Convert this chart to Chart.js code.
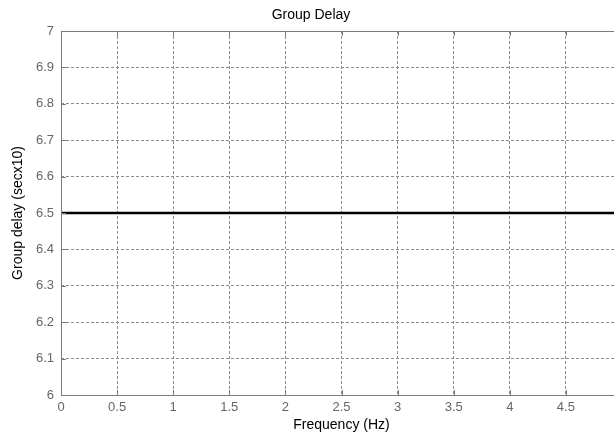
<!DOCTYPE html>
<html>
<head>
<meta charset="utf-8">
<script src="https://cdn.jsdelivr.net/npm/chart.js@4"></script>
<style>
  body { margin: 0; overflow: hidden; background: #fff; }
  #wrap { width: 614px; height: 439px; overflow: hidden; }
</style>
</head>
<body>
<div id="wrap"><canvas id="gd" width="640" height="439"></canvas></div>
<script>
// dados do gráfico
const freq = [0, 5];
const delay = [6.5, 6.5];
const xTicks = [0, 0.5, 1, 1.5, 2, 2.5, 3, 3.5, 4, 4.5, 5];
const yTicks = [6, 6.1, 6.2, 6.3, 6.4, 6.5, 6.6, 6.7, 6.8, 6.9, 7];

const FONT = 'Liberation Sans, Arial, sans-serif';
const AXIS = '#7a7a7a';

// caixa do eixo + marcas de tick internas (estilo matlab)
const boxPlugin = {
    id: 'box',
    afterDraw(chart) {
        const { ctx, chartArea: a, scales } = chart;
        ctx.save();
        ctx.strokeStyle = AXIS;
        ctx.lineWidth = 1;
        ctx.setLineDash([]);
        ctx.strokeRect(a.left + 0.5, a.top + 0.5, a.right - a.left, a.bottom - a.top);
        ctx.beginPath();
        xTicks.forEach(v => {
            const x = Math.round(scales.x.getPixelForValue(v)) + 0.5;
            ctx.moveTo(x, a.bottom); ctx.lineTo(x, a.bottom - 5);
            ctx.moveTo(x, a.top); ctx.lineTo(x, a.top + 5);
        });
        yTicks.forEach(v => {
            const y = Math.round(scales.y.getPixelForValue(v)) + 0.5;
            ctx.moveTo(a.left, y); ctx.lineTo(a.left + 5, y);
            ctx.moveTo(a.right, y); ctx.lineTo(a.right - 5, y);
        });
        ctx.stroke();
        ctx.restore();
    }
};

const grid = {
    color: '#8c8c8c',
    lineWidth: 1,
    drawTicks: false
};

new Chart(document.getElementById('gd'), {
    type: 'line',
    data: {
        datasets: [{
            data: freq.map((f, i) => ({ x: f, y: delay[i] })),
            borderColor: '#000',
            borderWidth: 2.5,
            pointRadius: 0,
            tension: 0
        }]
    },
    options: {
        responsive: false,
        animation: false,
        layout: { padding: { left: 0, right: 18, top: 0, bottom: 0 } },
        plugins: {
            legend: { display: false },
            tooltip: { enabled: false },
            title: {
                display: true,
                text: 'Group Delay',
                color: '#000',
                font: { family: FONT, size: 14, weight: 'normal' },
                padding: { top: 7, bottom: 7.2 }
            }
        },
        scales: {
            x: {
                type: 'linear',
                min: 0, max: 5,
                afterBuildTicks: s => { s.ticks = xTicks.map(v => ({ value: v })); },
                afterFit: s => { s.height = 44; },
                border: { display: false, dash: [3, 2] },
                grid: grid,
                ticks: {
                    color: '#666',
                    padding: 5,
                    maxRotation: 0,
                    autoSkip: false,
                    font: { family: FONT, size: 13 },
                    callback: v => String(v)
                },
                title: {
                    display: true,
                    text: 'Frequency (Hz)',
                    color: '#000',
                    font: { family: FONT, size: 14 },
                    padding: { top: 1, bottom: 5.6 }
                }
            },
            y: {
                min: 6, max: 7,
                afterBuildTicks: s => { s.ticks = yTicks.map(v => ({ value: v })); },
                afterFit: s => { s.width = 61; },
                border: { display: false, dash: [3, 2] },
                grid: grid,
                ticks: {
                    color: '#666',
                    padding: 7,
                    autoSkip: false,
                    font: { family: FONT, size: 13 },
                    callback: v => String(Number(v.toFixed(1)))
                },
                title: {
                    display: true,
                    text: 'Group delay (secx10)',
                    color: '#000',
                    font: { family: FONT, size: 14 },
                    padding: { top: 9.6, bottom: 0 }
                }
            }
        }
    },
    plugins: [boxPlugin]
});
</script>
</body>
</html>
